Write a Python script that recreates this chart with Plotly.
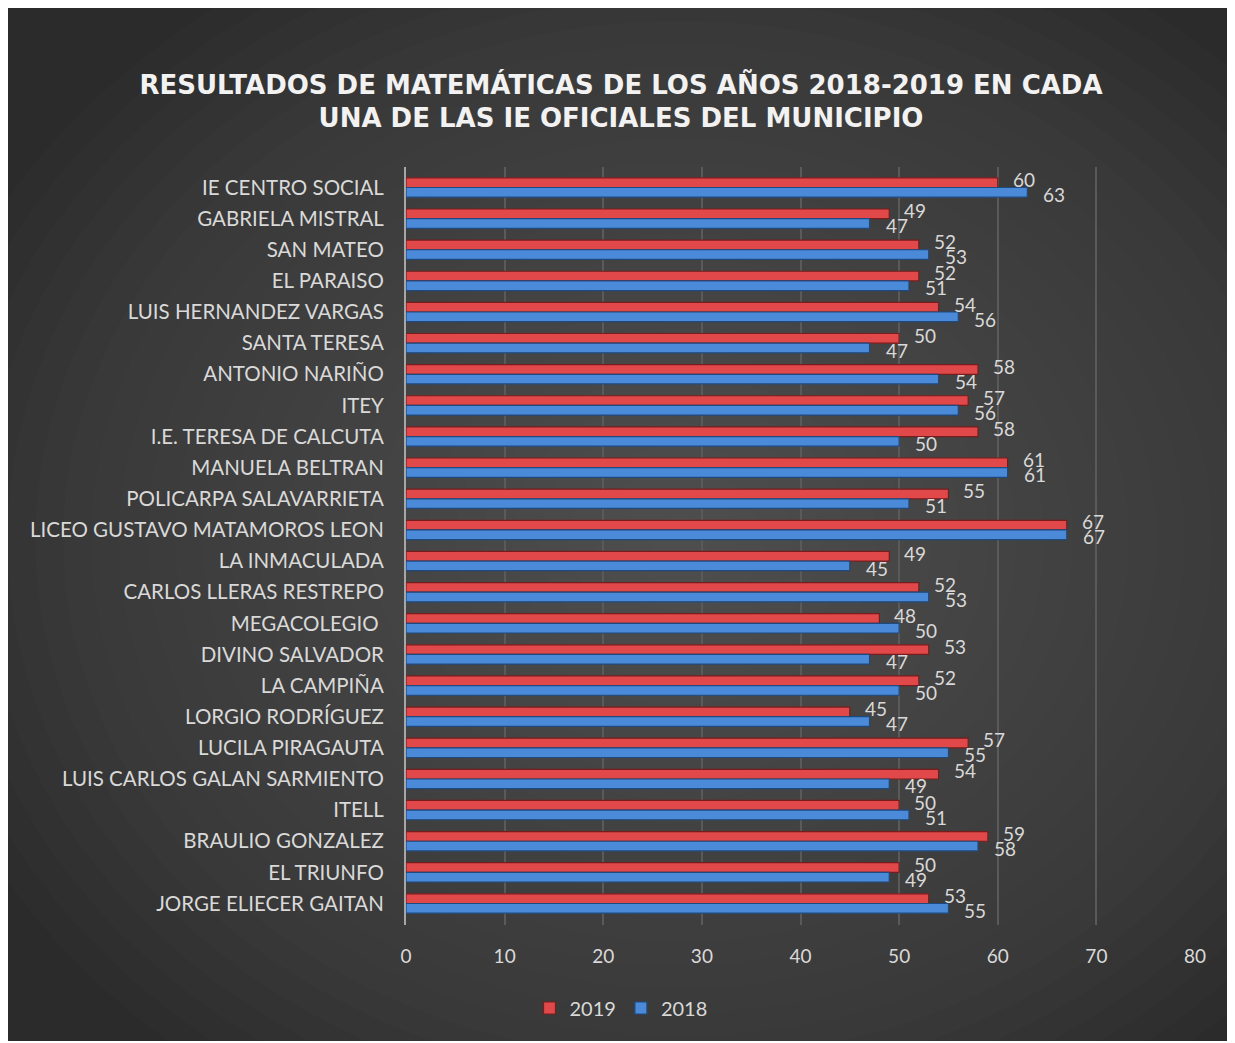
import plotly.graph_objects as go

categories = [
    "IE CENTRO SOCIAL", "GABRIELA MISTRAL", "SAN MATEO", "EL PARAISO",
    "LUIS HERNANDEZ VARGAS", "SANTA TERESA", "ANTONIO NARIÑO", "ITEY",
    "I.E. TERESA DE CALCUTA", "MANUELA BELTRAN", "POLICARPA SALAVARRIETA",
    "LICEO GUSTAVO MATAMOROS LEON", "LA INMACULADA", "CARLOS LLERAS RESTREPO",
    "MEGACOLEGIO ", "DIVINO SALVADOR", "LA CAMPIÑA", "LORGIO RODRÍGUEZ",
    "LUCILA PIRAGAUTA", "LUIS CARLOS GALAN SARMIENTO", "ITELL",
    "BRAULIO GONZALEZ", "EL TRIUNFO", "JORGE ELIECER GAITAN",
]
values_2019 = [60, 49, 52, 52, 54, 50, 58, 57, 58, 61, 55, 67, 49, 52, 48, 53, 52, 45, 57, 54, 50, 59, 50, 53]
values_2018 = [63, 47, 53, 51, 56, 47, 54, 56, 50, 61, 51, 67, 45, 53, 50, 47, 50, 47, 55, 49, 51, 58, 49, 55]
x_ticks = [0, 10, 20, 30, 40, 50, 60, 70, 80]
title_text = "RESULTADOS DE MATEMÁTICAS DE LOS AÑOS 2018-2019 EN CADA<br>UNA DE LAS IE OFICIALES DEL MUNICIPIO"

# figure is placed by the page with an 8px body margin
OFF = 8
W, H = 1227, 1033
ML, MR, MT, MB = 406 - OFF, 40, 167 - OFF, 116
PW, PH = W - ML - MR, H - MT - MB

def fx(px):  # page px -> paper x
    return (px - OFF - ML) / PW

def fy(py):  # page py -> paper y
    return (H - MB - (py - OFF)) / PH

FONT = "Lato"
TXT = "#d9d9d9"

fig = go.Figure()
fig.add_trace(go.Bar(
    y=categories, x=values_2019, name="2019", orientation="h",
    marker=dict(color="#e0484a", line=dict(color="#7a1c1c", width=1.2)),
))
fig.add_trace(go.Bar(
    y=categories, x=values_2018, name="2018", orientation="h",
    marker=dict(color="#4a8ad8", line=dict(color="#1f4a80", width=1.2)),
))

annotations = []
for cat, v in zip(categories, values_2019):
    annotations.append(dict(x=v, y=cat, xref="x", yref="y", text=str(v), showarrow=False,
                            xanchor="left", yanchor="middle", xshift=13, yshift=8,
                            font=dict(family=FONT, size=19, color=TXT)))
for cat, v in zip(categories, values_2018):
    annotations.append(dict(x=v, y=cat, xref="x", yref="y", text=str(v), showarrow=False,
                            xanchor="left", yanchor="middle", xshift=14, yshift=-7,
                            font=dict(family=FONT, size=19, color=TXT)))

shapes = []
# radial gradient approximation
x0, x1 = fx(OFF), fx(OFF + W)
y0, y1 = fy(OFF + H), fy(OFF)
cx, cy = fx(680), fy(540)
n = 28
for i in range(n):
    f = 1 - i / n
    rx = (x1 - x0) * 0.64 * f
    ry = (y1 - y0) * 0.64 * f
    shapes.append(dict(type="circle", xref="paper", yref="paper",
                       x0=cx - rx, x1=cx + rx, y0=cy - ry, y1=cy + ry,
                       fillcolor="#6a6a6a", opacity=0.035, line=dict(width=0), layer="below"))

fig.update_layout(
    width=W, height=H,
    margin=dict(l=ML, r=MR, t=MT, b=MB),
    paper_bgcolor="#2b2b2b",
    plot_bgcolor="rgba(0,0,0,0)",
    barmode="group", bargap=0.38, bargroupgap=0.0,
    shapes=shapes,
    annotations=annotations,
    title=dict(text=title_text, x=(621 - OFF) / W, xref="container", xanchor="center",
               y=1 - (93.5 - OFF) / H, yref="container", yanchor="middle",
               font=dict(family="DejaVu Sans", size=26, color="#f2f2f2", weight="bold")),
    legend=dict(orientation="h", xref="container", yref="container",
                x=(621 - OFF) / W, xanchor="center", y=1 - (1008 - OFF) / H, yanchor="middle",
                font=dict(family=FONT, size=20, color=TXT), bgcolor="rgba(0,0,0,0)",
                itemwidth=30, traceorder="normal"),
    showlegend=True,
    xaxis=dict(range=[0, 80], tickvals=x_ticks, showgrid=True, gridcolor="#5a5a5a", gridwidth=1.5,
               zeroline=False, showline=False, ticks="", ticklabelstandoff=18,
               tickfont=dict(family=FONT, size=19, color=TXT), fixedrange=True),
    yaxis=dict(autorange="reversed", showline=True, linecolor="#a6a6a6", linewidth=2,
               ticks="", ticklabelstandoff=16, showgrid=False,
               tickfont=dict(family=FONT, size=20.5, color=TXT)),
)

fig.write_html("out.html")
